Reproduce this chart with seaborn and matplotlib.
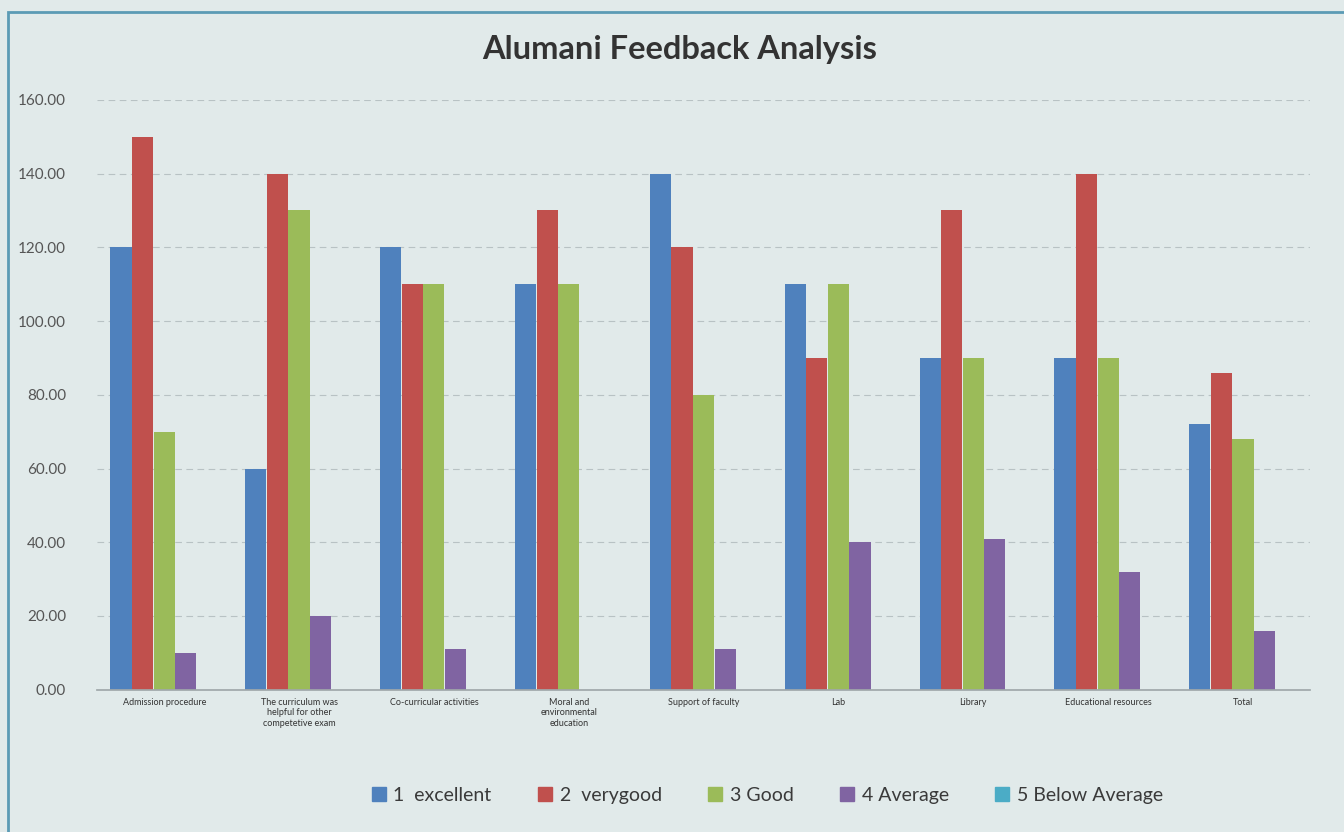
import matplotlib
matplotlib.use("Agg")
import matplotlib.pyplot as plt
import matplotlib.patches as mpatches
import seaborn as sns
import pandas as pd
from matplotlib.ticker import FormatStrFormatter

categories = [
    "Admission procedure",
    "The curriculum was\nhelpful for other\ncompetetive exam",
    "Co-curricular activities",
    "Moral and\nenvironmental\neducation",
    "Support of faculty",
    "Lab",
    "Library",
    "Educational resources",
    "Total",
]
series_names = ["1  excellent", "2  verygood", "3 Good", "4 Average", "5 Below Average"]
excellent = [120, 60, 120, 110, 140, 110, 90, 90, 72]
verygood = [150, 140, 110, 130, 120, 90, 130, 140, 86]
good = [70, 130, 110, 110, 80, 110, 90, 90, 68]
average = [10, 20, 11, 0, 11, 40, 41, 32, 16]
below_average = [0, 0, 0, 0, 0, 0, 0, 0, 0]
colors = ["#4F81BD", "#C0504D", "#9BBB59", "#8064A2", "#4BACC6"]

rows = []
for name, vals in zip(series_names, [excellent, verygood, good, average, below_average]):
    for c, v in zip(categories, vals):
        rows.append({"category": c, "series": name, "value": v})
df = pd.DataFrame(rows)

bg = "#E1EAEA"
sns.set_theme(style="white")
plt.rcParams["font.family"] = ["Lato", "DejaVu Sans"]

fig = plt.figure(figsize=(13.44, 8.32), dpi=100, facecolor=bg)
ax = fig.add_axes([0.072, 0.171, 0.903, 0.709])
ax.set_facecolor(bg)

sns.barplot(data=df, x="category", y="value", hue="series", order=categories,
            hue_order=series_names, palette=colors, width=0.8, gap=0.02,
            saturation=1, linewidth=0, ax=ax, legend=True)

ax.set_ylim(0, 160)
ax.set_xlim(-0.5, len(categories) - 0.5)
ax.set_yticks(range(0, 161, 20))
ax.yaxis.set_major_formatter(FormatStrFormatter("%.2f"))
ax.grid(axis="y", color="#B8C2C4", linestyle=(0, (6, 4)), linewidth=0.8)
ax.set_axisbelow(True)
for s in ["left", "right", "top"]:
    ax.spines[s].set_visible(False)
ax.spines["bottom"].set_color("#A0A8AA")
ax.tick_params(axis="y", labelsize=11, colors="#555555", pad=22, length=0)
ax.tick_params(axis="x", labelsize=6.5, colors="#333333", pad=6, length=0)
ax.set_xlabel("")
ax.set_ylabel("")

ax.legend_.remove()
handles = [mpatches.Patch(color=c, label=n) for c, n in zip(colors, series_names)]
fig.legend(handles=handles, loc="center", bbox_to_anchor=(0.571, 0.044), ncol=5,
           frameon=False, fontsize=14, handlelength=0.7, handleheight=0.7,
           handletextpad=0.4, columnspacing=2.4, labelcolor="#3A3A3A")

fig.text(0.506, 0.94, "Alumani Feedback Analysis", ha="center", va="center",
         fontsize=23.5, fontweight="bold", color="#333333")

fig.add_artist(mpatches.Rectangle((0.006, -0.01), 1.0, 0.995, transform=fig.transFigure,
                                  fill=False, edgecolor="#5B9BB5", linewidth=2))

fig.savefig("out.png", dpi=100, facecolor=bg)
